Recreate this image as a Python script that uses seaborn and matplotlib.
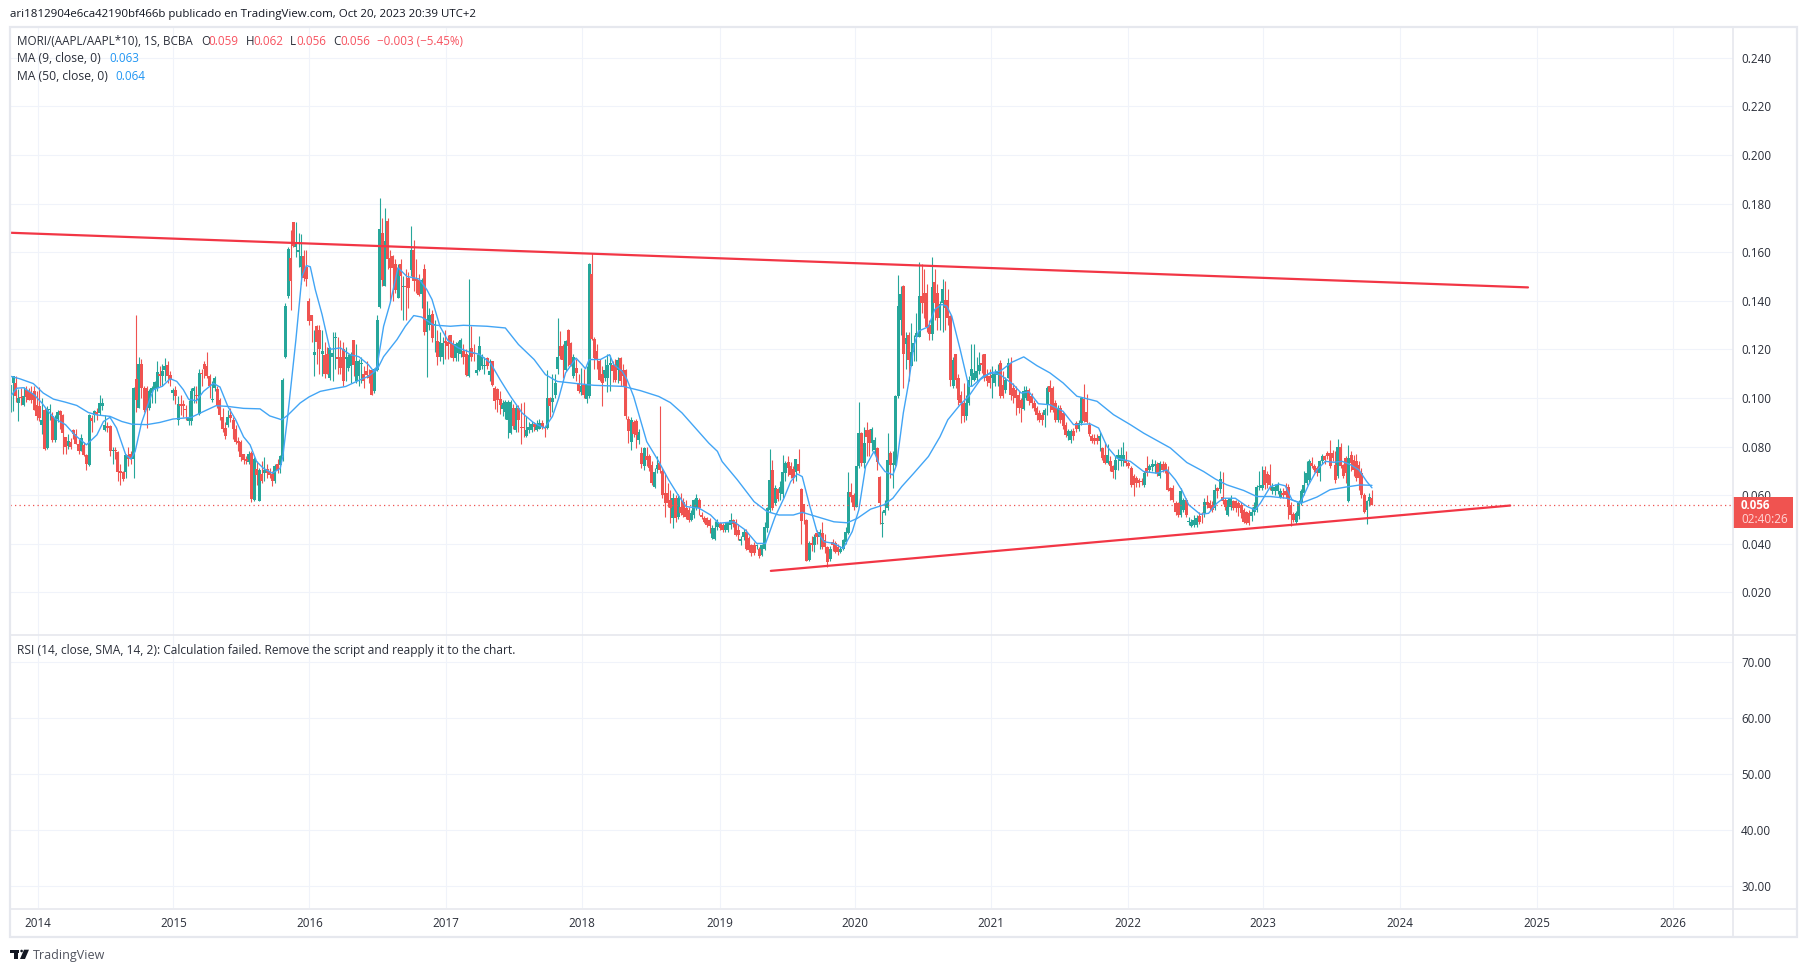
import matplotlib
matplotlib.use("Agg")
import matplotlib.pyplot as plt
from matplotlib.patches import Rectangle, Polygon, Circle
import numpy as np
import pandas as pd
import seaborn as sns

# ---------- data: weekly candles, prices in thousandths ----------
opens_a = [100.6,106,106,98,100.4,97,103.4,102.7,102,102.7,97,96.5,89,95,79.2,95,92.4,82.7,91.4,94.7]
highs_a = [105.5,109,109,103.5,104,104.5,105,104,105,105,103,104.5,100,96,96.5,97.5,94,93,95,95]
lows_a = [94,94.5,98.5,90.5,97,96.5,98.5,99,98,95,91,90.5,85,78.5,79,91,82,82,90,87]
closes_a = [105.5,109,100.6,100,99.8,100.6,100.4,99.3,99.3,95,92.4,91.7,91,79,95,95.5,82.7,91.7,94,93]

opens_b = [93,84,80.3,82,86.7,85,81,78,80.7,76.5,72.5,91.7,93,94,93.7,96.8,86.9,88.3,88.5,78.2]
highs_b = [93.5,84,85,83.5,87,87,83,85,82,77,93.5,93,95,96,101,100,93,90,89,80]
lows_b = [77,77,79,79,83,81,77,78,76,70.5,72,86,90,91,93,95,86.5,86,76,73]
closes_b = [85.5,80,82.3,80,85,81,78,83.5,76.5,73,93,90.7,94.5,93.5,98,98,89,87.5,78.3,78.5]

opens_c = [78.6,77.7,70,69.3,69.5,76.5,77,75,107.8,96,114,104,104,96,102,103.4,104,109.8,109,111.3]
highs_c = [80,78,73,70,77,80,78,104.5,134,117,116,105,105,103.5,105,107,115,113,114,116.5]
lows_c = [75,66,64,66,67,72,73,67,94,96,100,94,87.5,95,98,98,103,105,105,107]
closes_c = [78,69.7,69,66.7,76.5,75,75,104,99.3,114,104,95,95,102.7,104,106.5,110.7,109,111,113]

opens_d = [113.7,109.5,102,103.4,91,97.6,97.6,95.4,90.3,90.3,103,101.3,93.3,110.3,114,113,108.9,99.2,104,103.6]
highs_d = [115,111,104,105,100.6,101,99,97,99,104,105,105,112,112,115,119,110,107,109,105]
lows_d = [106,105,99,97.5,89,93,92,91,89,89,98,98,93,105,108,108,100,98.5,103,96]
closes_d = [109,107.5,103.4,100.6,97.6,96.8,96.8,94.9,92,103,104,100.6,110.3,110,112,109,104.8,99.4,108,97]

opens_e = [99,92,87.5,89,93,91,87,82.3,81.8,76.8,74.8,73.8,77.3,58,70.7,57.7,68.7,69,70.6,69.3]
highs_e = [100,96,90,95,96,92,89,84,82.5,77,76,78,78,75.5,74,71,74,75.5,73,71]
lows_e = [91,86,83,88,90,83,81,78,74,73,73,73,57,57.5,64,57.7,65,66,67,67]
closes_e = [93,87,84.4,92,91.7,87,82,81.4,75.5,74.5,74,77,58.3,75,68.3,70.4,65.6,70.4,69,68.3]

opens_f = [68.7,65.6,73,72.4,76,117,142,157.7,172.5,162,160,154,158.6,154,140,134,117.5,129.5,128,118]
highs_f = [70,73,75,76.5,108,139,162,169,172.5,172.5,168,167.5,161,161,141,134,128,130,130,128]
lows_f = [63.8,65,69,69,74,116.5,141,136,162,158,154,147,148,146,130,123,109,114,110,109]
closes_f = [65.6,72,70.4,76,107.5,138,161.4,148,162.5,164,161,158.6,149.5,149,131.5,131.5,119,123,120,119.5]

opens_g = [117.8,118,108,117,124.6,117,117,120,116,112.3,113,124,106.8,109,114,110,111,109.5,111.6,102.7]
highs_g = [123,121,121,127,127,125,124,123,121,118,119,124,122,116,117,113,115,112,112,112.5]
lows_g = [108,110,107.5,107,112,110,110,105,107,111,106,109,106,105,106,104,108,106,101,102]
closes_g = [110,110,120.5,118.5,124.8,116,112.3,107,117,117,118,113.4,115,115,114.5,107,109.5,108,101.3,112]

opens_h = [111.6,137.3,167.7,146,173,157.7,158.6,155,141,155,145.6,146,149.4,152.6,160.7,149,148.7,142.6,152.9,127]
highs_h = [134,182.4,174,178,174,161,159,157,155,157,150,153,152,170.7,165,157,151,149.5,155,140]
lows_h = [111,137,146,146,153,140,140,143,141,136,132,132,137,150,144,143,142,137,126,108.5]
closes_h = [132,169.6,148.7,164.6,157.3,153.6,153.6,144.6,153.6,150,146,145.5,145.3,160.7,148,148,142.3,148.7,127,132.5]

opens_i = [130,134.6,130,123.3,117,117,123.5,123,126,122,116.5,118.5,118,119.5,118,109,120.5,118.5,110.3,111.4]
highs_i = [137,136,132,128,127,125,128,126,126,124,123,123.5,124.5,122,120,149,129.5,122,118,125.6]
lows_i = [128,123,119,113.5,115,114,116,116,117,115,115,115,117,114,109,108.5,115,115,109.5,111]
closes_i = [134,124.7,130.5,117,123,122.5,122.5,121.5,122,116.5,122,122.6,124,117,109.5,117.5,117,118,111.7,121.3]

opens_j = [113,113,116.5,109.6,115,104,103.6,99.5,95.4,94.4,91,85.5,95.8,86.6,95.8,88,88,84.4,86.6,86.6]
highs_j = [118,117,117,116,115,105,104,103,99,99,99,99,97.5,97,97,97.9,98.5,92.4,90,90.5]
lows_j = [112,110,112,107,105,95.4,94,93.3,92.5,91.4,83.7,85,87,86,86,81,84,84,85.5,86]
closes_j = [117,113.7,113,111.2,105.4,98.6,99.3,97,97.9,98.2,98.2,98.2,88.5,95.8,91,87.6,87.6,86.6,88.2,89.3]

opens_k = [89.3,86.9,87.2,89.6,88,87.6,100,98.2,101.3,112,121.3,121.3,111.6,128,122.6,109,112.3,106,102.3,105.4]
highs_k = [90,91,91.5,91,88.5,111.6,100.5,110,110,132.7,127.4,122,124,128.5,123,118,116,110,112.3,112]
lows_k = [86.5,86.5,87,87,84,87,92,94,100,110,116,108,111,113,113,108,107,102,101,100]
closes_k = [88.2,89.3,89.6,88,87.6,100,96.5,100,106.1,116.8,117.4,115.8,123.6,121.3,113.7,116.8,110.3,103,105,101.3]

opens_l = [99.5,100.6,151.2,124.3,119.2,115.3,110,108.2,108.2,113.7,113.7,113.7,111.6,116.4,111.6,111.6,91.4,82,90,90.3]
highs_l = [113,155.5,159.8,125,122,116,113,116,118,117.5,115,116,117,117,114,112,92.5,92,91,91.5]
lows_l = [97.9,100,124,112,112,107,96.5,107,102.6,103,106.5,106.5,106,105,105,91.5,81.4,78.6,84,79.3]
closes_l = [105.2,155,124.3,116.4,116,107.5,106,111.6,113.7,114.4,111,107.5,115.7,106.8,109,92.4,86.2,91,85.2,84.8]

opens_m = [82.8,77.5,71.8,75.9,75.9,72.4,63.5,70.8,73.1,70.1,60.7,60.7,58,50.4,58.7,51.1,55.3,57.3,54.6,53.9]
highs_m = [87,80,80,80,77,74,71,76,96.5,71,69,65,62,61,60,60.5,61,59,58,55]
lows_m = [81,71,70.5,72,70,64,63,69,69,59,51,55,48.4,46.3,49,50,52,51,50,49]
closes_m = [85.9,72.7,79.3,74.5,71.3,64.9,69.7,72.4,70.4,60,56.6,56.6,54.6,58.7,50.4,58.7,52.5,51.8,51.1,49.8]

opens_n = [49.8,51.8,54.6,58,51.8,50.4,50.4,49.8,42.2,41.8,47,48.4,47.7,45.6,45.6,47.7,49.8,49,45.6,41.1]
highs_n = [54,58.5,60.5,59,53,51.5,51,50.5,47.5,49.5,50,49,48.5,49,49,52.5,50,50,48,43]
lows_n = [49.5,50.5,54,52,50,48.5,47,44.5,42,41.5,45.5,45.5,45,45,45,46,47,43,41.5,39.5]
closes_n = [52.5,58,58.7,54.6,51.1,49,47.7,47.3,46.3,46.3,49,46.3,45.6,47.7,48.4,49.8,48.1,43.6,43.6,41.8]

opens_o = [42.9,45,42.2,39.4,39.4,39,38,35.3,38,46.3,53.9,70.4,56.6,62.4,60.7,60.5,69,73.8,72,70.6]
highs_o = [46,46,43,40,40.5,40,38.5,40,49,55,79,74.5,64,63,66,76.5,74,76,73.5,72]
lows_o = [41.5,37.5,36.5,35,35.5,38,34,35,37.5,45,53,54,56,57.5,58,59,66,68,67,65]
closes_o = [45,38,37.4,36,36,39.4,34.9,39.4,47,54.6,66.3,54.6,62.8,58.3,63.5,69.4,73.1,71,68.3,67]

opens_p = [69.7,72.7,62.4,56.4,49.8,33.2,40.4,39.4,44.2,42.9,44.2,41.5,38.8,33.5,40.8,40.1,38.8,36.7,38,40.8]
highs_p = [75,78.9,62.8,56.5,50,41,43,44,45.5,46,49,44,39,39,42,41,40,39,42,47]
lows_p = [66,69,40,48,33,33,37,36.5,40,38,38,36,30.3,33,37,36,35.5,36,37.5,40]
closes_p = [74.8,70.1,49.3,52.5,33,40.1,39.4,42.9,42.6,45,38.8,38.8,32.6,38,39.4,36.7,36.7,38,41.5,45]

opens_q = [44.2,61.4,60,55.3,71.8,85.5,73.1,86.6,86.6,81.4,78.6,79.3,67.3,48.2,52.5,54.6,77.3,72.4,72.4,100.6]
highs_q = [69.4,65,61,72,98.3,86,88,90,87,88,84,80,68,53.6,58,85.5,78,78,101,150.4]
lows_q = [44,57,54,55,71,72,71,76,76,78,77,70.5,48,42.9,52,54,67,62.8,72,100]
closes_q = [61.4,59.4,55,71.8,85.5,73.1,81.4,84.1,81.4,87.3,82.8,73.8,56.6,48.6,53.9,74.5,72.4,73.1,100.6,137.8]

opens_r = [132,146,122.4,126,113,119,125,125,142,143,143,130,126.4,147.7,143.3,133,139,140.5,140.5,133.7]
highs_r = [146,146.5,127,127,131,126,135,156,155,153,147,132,158,153,147,140,149,148,145,134]
lows_r = [126,104,112,107,113,115,115,125,135,133,127,124,124,132,128,128,127,128,130,105]
closes_r = [142.6,118,124.5,115.8,119,122.7,126.8,142,139,139,129,126.4,145.8,139,133,138.5,144.7,137,133,107.5]

opens_s = [104.8,117.9,108,101,98,92.4,98,109,107.5,108,111,114.4,117.9,109,109,108,106,109.6,114.4,105.5]
highs_s = [117,118,110,103,106,101,109,122,122,117,119,118,118,112,112,113,112,114,115.5,111]
lows_s = [104,104,97,89.5,90,91,97,105,107,107,110,110.3,107,105,104,100,105,105,100,100]
closes_s = [115.8,107.5,99.3,98,92.4,98,107.5,112,110.3,111,113.7,113.7,108.2,107,106,109.6,110,111,100.7,100.7]

opens_t = [103.4,108.2,114.4,104,103.4,101.4,99,95.5,100,103.4,100.7,98,95.9,93.8,93.1,93.1,97.2,104.8,104,97.9]
highs_t = [108.5,116.5,117,106,105,103,100,105,105,104,102,99,96.5,95,94,96,105,107.5,105,99]
lows_t = [102,108,99,98,93,93.8,90,95,99,97,96,94.8,91,90,89,88,93,94,94,90]
closes_t = [107.5,114.4,101.3,100.7,100,95.9,95.9,102.7,103.4,98.6,98,95.9,93,91,91,95.2,104,102.3,95.2,91]

opens_u = [91,95.9,93.8,89,84.2,82.8,86.2,89.7,87,89.7,99.6,94,89,84.2,83.5,83.5,82.1,79.4,76.6,73.4]
highs_u = [97,97,94,90,87,87,87.5,90.5,91,100.5,105.8,101.6,90,85,85,85,86,80,82,81]
lows_u = [90,89.5,87,84,82.5,81.5,82.5,86,86.5,89,90,89.5,84.5,81.5,81,81,78,74.5,73,73]
closes_u = [95.9,91,88.6,84.9,86.2,86.2,84.2,87,89.7,100,90.4,90,85.3,82.1,82.1,82.1,84.2,75.2,73.4,76.6]

opens_v = [73.9,71.8,70.4,75.2,73.9,73.9,74.5,73.2,71,67.7,67,66.3,66,64.2,71.1,70.4,71.5,71.8,72.9,67.7,72.9]
highs_v = [76,72.5,76,79,80,82,78,74,72,68.5,68,67,67,70,76,73,75,74.5,73.5,74,74]
lows_v = [70,67,66.5,70.5,72,72,72,71,63.5,59.5,63.5,63.5,64,63.5,68,69.5,70,69,68,67,69.5]
closes_v = [71.8,69.7,74.5,76.6,76.6,76.6,73.2,71.8,64.2,64.2,65,65,65.5,69,69,71.8,72.9,72.9,69,73.2,70.4]

opens_w = [72.9,70.4,62.9,62.9,56.6,56.6,51.9,54,58,49.1,47.3,47.7,47.7,51.2,51.9,52.5,57.3,56.6,56,54.6]
highs_w = [73.5,72,63.5,64,57.5,57,63,59,59,51,50,52,52,53,53,59,60,58,57.5,64.5]
lows_w = [69,61.5,58,57,52,51,51,53,51,47.5,47,47,47,48,48.5,51,54.5,54,53,54]
closes_w = [70.4,62.2,61.5,58,53.2,51.9,61.5,58,51.9,49.3,49.1,49.8,50.5,49.1,51.7,57.3,56,54.6,53.9,62]

opens_x = [62.9,62.4,59.4,58,51.9,55.3,57.4,57.4,56.6,56,53.9,53.2,52.5,51.2,53.2,54,63.5,62.9,70.4,68.6]
highs_x = [63.5,70,69.5,59,59,60,58,58,57.5,57,54.5,53.5,54,55,57,64,70,72,72,70]
lows_x = [59,61,56.5,54,51.5,54,54,53,51.5,50.5,48.5,48,47.5,49.5,52,53,62,62,62.5,63]
closes_x = [61.5,66.6,57.4,55.3,58,58.7,54.6,54.6,54.6,52.5,49.1,48.7,48.7,53.2,55.3,63.5,63.8,64.2,64.2,64.9]

opens_y = [68.4,61.5,61.5,61.5,59.4,61,61.5,63.5,56,52.3,49.1,51.2,56.6,60.8,64.9,66.3,73.2,71.8,71.1,69,73.9]
highs_y = [72.9,65,64.5,65.5,63,63,65,64.5,57,53,53.5,58,62.5,70,74,75,75.5,73,72,74.5,77]
lows_y = [62,60.5,60,60.5,59,59,59,50,47.3,49,48,50,56,60,64,65,71,69.5,68,66,73]
closes_y = [64.2,63.5,63.5,64.2,61.5,60,60.1,55.3,51.9,49.8,52.5,56.6,61.5,64.2,69,73.9,71.8,70.4,69,73.9,75.9]

opens_z = [75.9,77.3,77.3,77.3,72.5,67.7,80,72.5,75.2,57.4,76.6,74.5,73.9,72.5,69,60.1,54,57.4,59]
highs_z = [76.5,78,82.7,78.5,78,83,81.5,73,76,80.5,78,76.5,77,74,71,61,58,61,62]
lows_z = [73,75,71,74,65,67,71,67,65,57,70,68,66,62,59,52.5,48,55.5,56]
closes_z = [74.5,75.9,71.8,75.2,66.3,80,71.8,67.7,69,75.2,73.2,70.4,67,67,60.1,53.2,57.4,59.4,56]

ma9_bars = [0,2.4,5,9,12,14,17,21,24.5,29,33,35.5,38,40.5,44,46,47.6,50,52.7,54.6,58,61,63.5,66,68,71,73.7,77.5,80,83,86,89,91.5,94,96.6,100,103,104,106,109,111.3,113,114.5,116.4,119,122,126,129.7,133,136.7,138.7,140,142.5,145,148,151.4,156,159,161,164,167,
            171,175,179,183.3,187,191,195.4,200,204,207,209.4,212,216,218.3,219.6,221,225.3,228.8,230.4,233.6,235.5,238,240.6,243,247.6,251.4,255,258,263,267.4,270.5,276.3,280.7,285,288.4,292,295.4,298,300.5,302.4,305,308,310.7,314.5,318,321.5,324,326.6,329.8,331.7,334,337,338.4,340,
            341,343,345,346.8,350.6,353,355.7,357.6,359.5,362.7,366,367.3,371.6,375,378,383,386,389,392.6,397,402,406,412.4,415.6,418.8,422.6,427.7,432.8,437.9,441.7,444.9,447.4,450,454.4,457.6,460.8,463.3,467.8,472.3,475.4,477.4,481.2,484.4,486.9,489.5,492.6,495.8,499,502.2,505.4,508.6,511.8,515,518,520]
ma9_values = [100.6,104,104.2,101.3,97.9,95,91.4,89,84.8,80.7,84.8,90.3,92,87.6,76.6,74.8,78,89.6,97.9,103.4,104.8,107.9,106.8,103.4,99.5,98.8,102.7,106,104.5,96.5,91,84,80.7,73.8,71,69,71,75.9,93.8,124,150,154.5,154,144.6,134.3,120,120.6,117.8,117,113.7,111,113,129.5,139,153.6,150,149,144.6,140.5,129.5,123.7,
              120.6,119,118,114.4,107.5,100.6,93.8,89.6,87.6,92.4,100,110.3,116.4,113.7,112,115.8,115.8,117.8,113.7,111,107.5,100.6,91,82,73.8,66.2,60,55.3,54.6,51.8,48.4,49,45.6,40.1,40.1,51,58.7,65.6,68.7,67.6,56.6,45,40.8,40.1,38,45,53.9,71.8,78,73,69.7,68.3,72.4,85.5,
              93.8,106,121.3,127.5,129.3,136.4,138.5,137.8,133.7,120,104.8,104.8,109,110.3,109.6,105.5,102,102.5,97.6,97.2,94.5,89,89.3,87.6,80,75.2,73.9,69.7,69,70.4,66.3,62,56,52.1,52.5,56.7,58.7,58.7,55.3,53.9,56.7,63.5,64.5,63.8,58,56.7,64.2,70.4,73.9,73.5,73.9,72.5,70.4,65.6,63]

ma50_bars = [0,3.5,8.7,12.5,16.4,20.8,25.3,29.7,33,38,42.5,46.3,52,57,62,69,73.7,78.5,83,89,95.3,99,103.6,106,110.6,114,118.3,123.4,128,133,136.7,140,142.5,147.6,150.8,154,157,161.6,168,
             173,182,189,194,200,204.3,208.8,216.4,222.8,234,240.6,247.6,252,256.5,261.6,266.7,270,271.8,277.6,284,289,293.5,299,302.4,308,314.5,319.6,323.4,328.5,333.6,337,
             340.4,345,350.6,355,358,362.7,366,370.4,374,378,382.5,387,392,397,402,407.3,415,421.3,427.7,432.8,443,449.3,455.7,460.2,464.6,471,476,481.2,487.5,493,499,504,510,515.6,520]
ma50_values = [108.9,107.9,105.9,102,99.5,98.3,96.9,94,93,92.4,90.3,89.2,89,89.9,91.3,92,94.4,96.8,96.5,95.7,95.5,92.6,91,93,97.9,100.4,102.7,103.8,104.7,107.2,108.9,111.6,117,124,129.5,133.9,133.3,130,129.5,
               129.9,129.5,128.8,122,115.8,109.6,106.8,105.9,105.2,104.75,103,100.6,98.1,93.8,87.6,81.4,78,73.8,66.3,57.3,53.2,51.8,51.8,52.9,51.1,49,48.6,50.4,54.2,56,58.7,
               63.5,69,75.9,84,91,97.2,100.7,107.5,110.3,111,114.7,116.9,113.3,110.3,106.2,100.7,98.6,93.1,89,85.5,79.4,73.4,69.7,66.6,64.2,61.9,59.4,59.4,58.7,56.7,59.2,62.2,63.3,64.2,64]

upper_trend_bars = [-0.2, 579.6]
upper_trend_values = [168, 145.5]
lower_trend_bars = [290.4, 572.8]
lower_trend_values = [28.8, 55.7]

year_labels = ["2014","2015","2016","2017","2018","2019","2020","2021","2022","2023","2024","2025","2026"]
year_bars = [10.4,62.2,114.1,166.3,218.2,270.8,322.6,374.6,426.7,478.5,530.6,583,635]
price_ticks = [0.02,0.04,0.06,0.08,0.10,0.12,0.14,0.16,0.18,0.20,0.22,0.24]
rsi_ticks = [30,40,50,60,70]
last_price = 56

# ---------- assemble ----------
def join(*parts):
    return np.concatenate([np.asarray(p, dtype=float) for p in parts]) / 1000.0

opens = join(opens_a,opens_b,opens_c,opens_d,opens_e,opens_f,opens_g,opens_h,opens_i,opens_j,opens_k,opens_l,opens_m,
             opens_n,opens_o,opens_p,opens_q,opens_r,opens_s,opens_t,opens_u,opens_v,opens_w,opens_x,opens_y,opens_z)
highs = join(highs_a,highs_b,highs_c,highs_d,highs_e,highs_f,highs_g,highs_h,highs_i,highs_j,highs_k,highs_l,highs_m,
             highs_n,highs_o,highs_p,highs_q,highs_r,highs_s,highs_t,highs_u,highs_v,highs_w,highs_x,highs_y,highs_z)
lows = join(lows_a,lows_b,lows_c,lows_d,lows_e,lows_f,lows_g,lows_h,lows_i,lows_j,lows_k,lows_l,lows_m,
            lows_n,lows_o,lows_p,lows_q,lows_r,lows_s,lows_t,lows_u,lows_v,lows_w,lows_x,lows_y,lows_z)
closes = join(closes_a,closes_b,closes_c,closes_d,closes_e,closes_f,closes_g,closes_h,closes_i,closes_j,closes_k,closes_l,closes_m,
              closes_n,closes_o,closes_p,closes_q,closes_r,closes_s,closes_t,closes_u,closes_v,closes_w,closes_x,closes_y,closes_z)
n = min(len(opens), len(highs), len(lows), len(closes))
candles = pd.DataFrame({"bar": np.arange(n), "open": opens[:n], "high": highs[:n], "low": lows[:n], "close": closes[:n]})
candles["up"] = candles["close"] >= candles["open"]

# ---------- style ----------
W, H = 1807, 972
GREEN, RED, BLUE = "#26a69a", "#ef5350", "#42a5f5"
TREND, GRID, FRAME, INK = "#f23645", "#f0f3fa", "#e6e8ee", "#2a2e39"
sns.set_theme(style="white")
FONT = ["Open Sans", "DejaVu Sans"]
plt.rcParams["font.family"] = FONT
FS = 8.4

fig = plt.figure(figsize=(W / 100, H / 100), dpi=100, facecolor="white")

def pane(top, bottom, left=10, right=1733):
    return fig.add_axes([left / W, 1 - bottom / H, (right - left) / W, (bottom - top) / H])

ax = pane(27, 635)
rsi = pane(635, 908)
xlim = (-0.2, 657.9)
for a in (ax, rsi):
    a.set_xlim(*xlim)
    a.set_xticks(year_bars)
    a.grid(True, color=GRID, lw=0.8)
    a.set_axisbelow(True)
    a.yaxis.tick_right()
    a.tick_params(length=0, labelsize=FS, colors=INK, pad=5.8)
    for s in a.spines.values():
        s.set_visible(False)
    a.set_xlabel("")
    a.set_ylabel("")

ax.set_ylim(0.0024, 0.2527)
ax.set_yticks(price_ticks)
ax.set_yticklabels([f"{t:.3f}" for t in price_ticks])
ax.set_xticklabels([])
rsi.set_ylim(26.1, 74.9)
rsi.set_yticks(rsi_ticks)
rsi.set_yticklabels([f"{t:.2f}" for t in rsi_ticks])
rsi.set_xticklabels(year_labels)
rsi.tick_params(axis="x", pad=6.8)

# candles
for up, colour in ((True, GREEN), (False, RED)):
    d = candles[candles["up"] == up]
    ax.vlines(d["bar"], d["low"], d["high"], color=colour, lw=0.8, zorder=2)
    ax.bar(d["bar"], (d["close"] - d["open"]).abs().clip(lower=0.0004),
           bottom=d[["open", "close"]].min(axis=1), width=1.15, color=colour, lw=0, zorder=2.1)

ax.axhline(last_price / 1000, color=RED, lw=0.9, ls=(0, (1, 2.6)), zorder=3)

# moving averages and trend lines
ma9 = pd.DataFrame({"bar": ma9_bars, "value": np.array(ma9_values) / 1000})
ma50 = pd.DataFrame({"bar": ma50_bars, "value": np.array(ma50_values) / 1000})
sns.lineplot(data=ma50, x="bar", y="value", ax=ax, color=BLUE, lw=1.0, estimator=None, sort=False, zorder=4)
sns.lineplot(data=ma9, x="bar", y="value", ax=ax, color=BLUE, lw=1.0, estimator=None, sort=False, zorder=4)
sns.lineplot(x=upper_trend_bars, y=np.array(upper_trend_values) / 1000, ax=ax, color=TREND, lw=1.6, estimator=None, zorder=5)
sns.lineplot(x=lower_trend_bars, y=np.array(lower_trend_values) / 1000, ax=ax, color=TREND, lw=1.6, estimator=None, zorder=5)
ax.set_xlim(*xlim)
ax.set_xlabel("")
ax.set_ylabel("")

# ---------- overlay in pixel coordinates ----------
ov = fig.add_axes([0, 0, 1, 1], zorder=10)
ov.set_xlim(0, W)
ov.set_ylim(H, 0)
ov.axis("off")
ov.patch.set_alpha(0)

ov.add_patch(Rectangle((10, 27), 1787, 910, fill=False, ec=FRAME, lw=1.6))
ov.plot([10, 1797], [635, 635], color=FRAME, lw=1.2)
ov.plot([10, 1797], [909, 909], color=FRAME, lw=1.2)
ov.plot([1733, 1733], [27, 937], color=FRAME, lw=1.2)

def label(x, y, s, color=INK, size=FS, **kw):
    ov.text(x, y, s, color=color, fontsize=size, va="center", ha="left", **kw)

label(10, 15, "ari1812904e6ca42190bf466b publicado en TradingView.com, Oct 20, 2023 20:39 UTC+2", color="#131722", size=8.27)
legend_red = "#f7525f"
label(17.5, 41.5, "MORI/(AAPL/AAPL*10), 1S, BCBA")
for x, s, c in [(201, "O", INK), (208.6, "0.059", legend_red), (245.7, "H", INK), (253, "0.062", legend_red),
                (290, "L", INK), (296.6, "0.056", legend_red), (333, "C", INK), (340.6, "0.056", legend_red),
                (377, "\u22120.003 (\u22125.45%)", legend_red)]:
    label(x, 41.5, s, color=c)
label(17.5, 59, "MA (9, close, 0)", size=8.7)
label(109, 59, "0.063", color="#2196f3")
label(17.5, 76, "MA (50, close, 0)", size=8.7)
label(115.5, 76, "0.064", color="#2196f3")
label(17.5, 650, "RSI (14, close, SMA, 14, 2): Calculation failed. Remove the script and reapply it to the chart.", size=8.66)

# last price tag
ov.add_patch(Rectangle((1733, 497), 60, 31, fc="#f05350", ec="none"))
label(1741, 505, f"{last_price / 1000:.3f}", color="white", fontweight="bold")
label(1741, 519.5, "02:40:26", color="#ffd6d6")

# TradingView footer mark
for pts in ([(10, 949.7), (19.3, 949.7), (19.3, 952.6), (18.3, 952.6), (18.3, 959), (14.3, 959), (14.3, 952.6), (10, 952.6)],
            [(24, 949.7), (29, 949.7), (25, 959), (20, 959)]):
    ov.add_patch(Polygon(pts, closed=True, fc="#131722", ec="none"))
ov.add_patch(Circle((21.6, 951), 1.3, fc="#131722", ec="none"))
label(33, 955, "TradingView", color="#50535e", size=9)

fig.savefig("out.png", dpi=100)
